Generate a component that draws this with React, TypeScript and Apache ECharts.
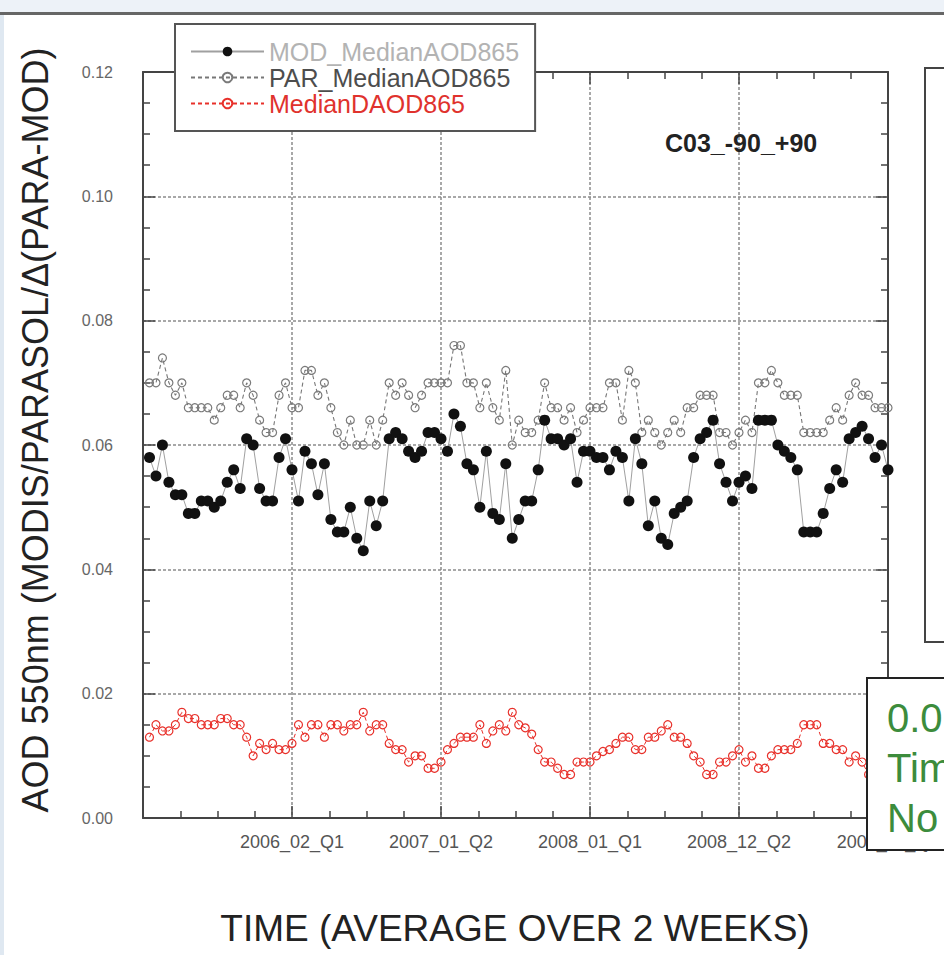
import React, { useEffect, useRef } from 'react';
import * as echarts from 'echarts';

// Two-week composites, numbered from the first period after the axis origin.
const SAMPLES_PER_TICK = 23;
const tickLabels = ['2006_02_Q1', '2007_01_Q2', '2008_01_Q1', '2008_12_Q2', '2009_11_Q1'];

const modMedianAOD865 = [
  0.058, 0.055, 0.060, 0.054, 0.052, 0.052, 0.049, 0.049, 0.051, 0.051,
  0.050, 0.051, 0.054, 0.056, 0.053, 0.061, 0.060, 0.053, 0.051, 0.051,
  0.058, 0.061, 0.056, 0.051, 0.059, 0.057, 0.052, 0.057, 0.048, 0.046,
  0.046, 0.050, 0.045, 0.043, 0.051, 0.047, 0.051, 0.061, 0.062, 0.061,
  0.059, 0.058, 0.059, 0.062, 0.062, 0.061, 0.059, 0.065, 0.063, 0.057,
  0.056, 0.050, 0.059, 0.049, 0.048, 0.057, 0.045, 0.048, 0.051, 0.051,
  0.056, 0.064, 0.061, 0.061, 0.060, 0.061, 0.054, 0.059, 0.059, 0.058,
  0.058, 0.056, 0.059, 0.058, 0.051, 0.061, 0.057, 0.047, 0.051, 0.045,
  0.044, 0.049, 0.050, 0.051, 0.058, 0.061, 0.062, 0.064, 0.057, 0.054,
  0.051, 0.054, 0.055, 0.053, 0.064, 0.064, 0.064, 0.060, 0.059, 0.058,
  0.056, 0.046, 0.046, 0.046, 0.049, 0.053, 0.056, 0.054, 0.061, 0.062,
  0.063, 0.061, 0.058, 0.060, 0.056,
];

const parMedianAOD865 = [
  0.070, 0.070, 0.074, 0.070, 0.068, 0.070, 0.066, 0.066, 0.066, 0.066,
  0.064, 0.066, 0.068, 0.068, 0.066, 0.070, 0.068, 0.064, 0.062, 0.062,
  0.068, 0.070, 0.066, 0.066, 0.072, 0.072, 0.068, 0.070, 0.066, 0.062,
  0.060, 0.064, 0.060, 0.060, 0.064, 0.060, 0.064, 0.070, 0.068, 0.070,
  0.068, 0.066, 0.068, 0.070, 0.070, 0.070, 0.070, 0.076, 0.076, 0.070,
  0.070, 0.066, 0.070, 0.066, 0.064, 0.072, 0.060, 0.064, 0.062, 0.062,
  0.064, 0.070, 0.066, 0.066, 0.064, 0.066, 0.062, 0.064, 0.066, 0.066,
  0.066, 0.070, 0.070, 0.064, 0.072, 0.070, 0.062, 0.064, 0.062, 0.060,
  0.062, 0.064, 0.062, 0.066, 0.066, 0.068, 0.068, 0.068, 0.062, 0.062,
  0.060, 0.062, 0.064, 0.062, 0.070, 0.070, 0.072, 0.070, 0.068, 0.068,
  0.068, 0.062, 0.062, 0.062, 0.062, 0.064, 0.066, 0.064, 0.068, 0.070,
  0.068, 0.068, 0.066, 0.066, 0.066,
];

const medianDAOD865 = [
  0.013, 0.015, 0.014, 0.014, 0.015, 0.017, 0.016, 0.016, 0.015, 0.015,
  0.015, 0.016, 0.016, 0.015, 0.015, 0.013, 0.010, 0.012, 0.011, 0.012,
  0.011, 0.011, 0.012, 0.015, 0.013, 0.015, 0.015, 0.013, 0.015, 0.015,
  0.014, 0.015, 0.015, 0.017, 0.014, 0.015, 0.015, 0.012, 0.011, 0.011,
  0.009, 0.010, 0.010, 0.008, 0.008, 0.009, 0.011, 0.012, 0.013, 0.013,
  0.013, 0.015, 0.012, 0.014, 0.015, 0.014, 0.017, 0.015, 0.0145, 0.0135,
  0.011, 0.009, 0.009, 0.008, 0.007, 0.007, 0.009, 0.009, 0.009, 0.010,
  0.0107, 0.011, 0.012, 0.013, 0.013, 0.011, 0.011, 0.013, 0.013, 0.014,
  0.015, 0.013, 0.013, 0.012, 0.010, 0.009, 0.007, 0.007, 0.009, 0.009,
  0.010, 0.011, 0.009, 0.010, 0.008, 0.008, 0.010, 0.011, 0.011, 0.011,
  0.012, 0.015, 0.015, 0.015, 0.012, 0.012, 0.011, 0.011, 0.009, 0.010,
  0.009, 0.007, 0.007, 0.0075, 0.008,
];

const seriesNames = ['MOD_MedianAOD865', 'PAR_MedianAOD865', 'MedianDAOD865'];
const boxLines = ['0.0', 'Tim', 'No'];

const FONT = "'Liberation Sans', Arial, Helvetica, sans-serif";
const AXIS_COLOR = '#444';

const toPoints = (values: number[]) => values.map((v, k) => [k + 1, v]);

function buildOption() {
  const xMax = SAMPLES_PER_TICK * tickLabels.length;
  const tickStyle = { color: AXIS_COLOR, width: 1.5 };
  const gridLine = { show: true, lineStyle: { color: '#8c8c8c', width: 1.5, type: [3, 2] } };

  const baseX = {
    type: 'value',
    min: 0,
    max: xMax,
    interval: SAMPLES_PER_TICK,
    axisLine: { show: true, onZero: false, lineStyle: { color: AXIS_COLOR, width: 2 } },
    axisTick: { show: true, inside: true, length: 12, lineStyle: tickStyle },
    minorTick: { show: true, splitNumber: 4, length: 7, lineStyle: tickStyle },
  };
  const baseY = {
    type: 'value',
    min: 0,
    max: 0.12,
    interval: 0.02,
    axisLine: { show: true, onZero: false, lineStyle: { color: AXIS_COLOR, width: 2 } },
    axisTick: { show: true, inside: true, length: 12, lineStyle: tickStyle },
    minorTick: { show: true, splitNumber: 4, length: 7, lineStyle: tickStyle },
  };

  return {
    animation: false,
    textStyle: { fontFamily: FONT },
    title: {
      text: 'C03_-90_+90',
      left: 665,
      top: 130,
      padding: 0,
      textStyle: { fontSize: 25, fontWeight: 'bold', color: '#222', fontFamily: FONT },
    },
    legend: {
      orient: 'vertical',
      left: 175,
      top: 24,
      padding: [15, 16, 15, 15],
      itemWidth: 73,
      itemHeight: 12,
      itemGap: 1,
      backgroundColor: '#fff',
      borderColor: '#555',
      borderWidth: 2,
      selectedMode: false,
      textStyle: { fontSize: 25, fontFamily: FONT },
      data: [
        { name: seriesNames[0], textStyle: { color: '#b3b3b3' } },
        { name: seriesNames[1], textStyle: { color: '#4d4d4d' } },
        { name: seriesNames[2], textStyle: { color: '#e0322d' } },
      ],
    },
    grid: { left: 143, top: 72, width: 745, height: 746, show: false },
    xAxis: [
      {
        ...baseX,
        position: 'bottom',
        splitLine: gridLine,
        axisLabel: {
          margin: 15,
          fontSize: 18,
          color: '#555',
          formatter: (v: number) => (v === 0 ? '' : tickLabels[v / SAMPLES_PER_TICK - 1] ?? ''),
        },
      },
      { ...baseX, position: 'top', splitLine: { show: false }, axisLabel: { show: false } },
    ],
    yAxis: [
      {
        ...baseY,
        position: 'left',
        splitLine: gridLine,
        axisLabel: { margin: 30, fontSize: 16, color: '#666', formatter: (v: number) => v.toFixed(2) },
      },
      { ...baseY, position: 'right', splitLine: { show: false }, axisLabel: { show: false } },
    ],
    series: [
      {
        name: seriesNames[1],
        type: 'line',
        data: toPoints(parMedianAOD865),
        symbol: 'circle',
        symbolSize: 8,
        z: 2,
        itemStyle: { color: 'rgba(255,255,255,0)', borderColor: '#7a7a7a', borderWidth: 1.2 },
        lineStyle: { color: '#777', width: 1.1, type: [4, 3] },
      },
      {
        name: seriesNames[0],
        type: 'line',
        data: toPoints(modMedianAOD865),
        symbol: 'circle',
        symbolSize: 11,
        z: 3,
        itemStyle: { color: '#111' },
        lineStyle: { color: '#a0a0a0', width: 1 },
      },
      {
        name: seriesNames[2],
        type: 'line',
        data: toPoints(medianDAOD865),
        symbol: 'circle',
        symbolSize: 8,
        z: 3,
        itemStyle: { color: 'rgba(255,255,255,0)', borderColor: '#e8302a', borderWidth: 1.2 },
        lineStyle: { color: '#e8302a', width: 1, type: [4, 3] },
      },
    ],
    graphic: [
      { type: 'rect', z: -10, silent: true, shape: { x: 0, y: 0, width: 944, height: 12 }, style: { fill: '#edf2f8' } },
      { type: 'rect', z: -10, silent: true, shape: { x: 0, y: 12, width: 944, height: 3 }, style: { fill: '#666' } },
      { type: 'rect', z: -10, silent: true, shape: { x: 0, y: 15, width: 4, height: 940 }, style: { fill: '#dfe8f1' } },
      {
        type: 'text',
        x: 35,
        y: 430,
        rotation: Math.PI / 2,
        style: {
          text: 'AOD 550nm (MODIS/PARASOL/Δ(PARA-MOD)',
          fontSize: 36,
          fontFamily: FONT,
          fill: '#222',
          align: 'center',
          verticalAlign: 'middle',
          textAlign: 'center',
          textVerticalAlign: 'middle',
        },
      },
      {
        type: 'text',
        x: 515,
        y: 928,
        style: {
          text: 'TIME (AVERAGE OVER 2 WEEKS)',
          fontSize: 37,
          fontFamily: FONT,
          fill: '#222',
          align: 'center',
          verticalAlign: 'middle',
          textAlign: 'center',
          textVerticalAlign: 'middle',
        },
      },
      {
        type: 'rect',
        z: 100,
        shape: { x: 925, y: 68, width: 40, height: 574 },
        style: { fill: '#fff', stroke: '#444', lineWidth: 2 },
      },
      {
        type: 'rect',
        z: 100,
        shape: { x: 867, y: 678, width: 100, height: 172 },
        style: { fill: '#fff', stroke: '#222', lineWidth: 2 },
      },
      ...boxLines.map((t, k) => ({
        type: 'text',
        z: 101,
        x: 887,
        y: 718 + k * 50,
        style: {
          text: t,
          fontSize: 40,
          fontFamily: FONT,
          fill: '#3c8c3c',
          align: 'left',
          verticalAlign: 'middle',
          textAlign: 'left',
          textVerticalAlign: 'middle',
        },
      })),
    ],
  };
}

export default function App() {
  const ref = useRef<HTMLDivElement>(null);
  useEffect(() => {
    if (!ref.current) return;
    const chart = echarts.init(ref.current, undefined, { renderer: 'svg' });
    chart.setOption(buildOption() as any);
    return () => chart.dispose();
  }, []);
  return (
    <div
      ref={ref}
      style={{ position: 'absolute', left: 0, top: 0, width: 944, height: 955, background: '#fff' }}
    />
  );
}
